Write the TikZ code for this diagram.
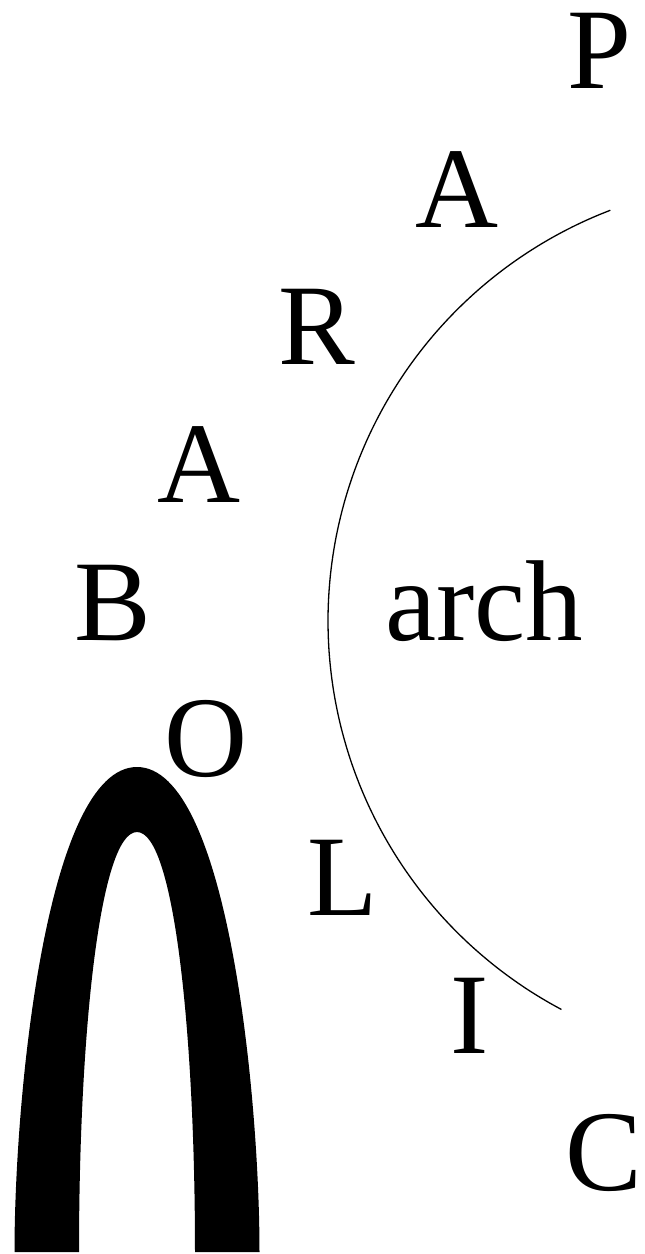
\documentclass[tikz,border=0pt]{standalone}
\usepackage{fontspec}
\setmainfont{Liberation Serif}
\begin{document}
\begin{tikzpicture}[x=1pt,y=-1pt,
  letter/.style={anchor=base, inner sep=0pt, font=\fontsize{115}{120}\selectfont},
  thinarc/.style={line width=1.3pt, black},
  archfill/.style={fill=black}]
\useasboundingbox (0,0) rectangle (645,1254);
% letters
\node[letter] (p)  at (599,88)   {P};
\node[letter] (a1) at (457,227)  {A};
\node[letter] (r)  at (317,364)  {R};
\node[letter] (a2) at (199,502)  {A};
\node[letter] (b)  at (113,640)  {B};
\node[letter] (o)  at (206,776)  {O};
\node[letter] (l)  at (343,915)  {L};
\node[letter] (i)  at (470,1053) {I};
\node[letter] (c)  at (604,1190) {C};
\node[letter] (arch) at (484,640) {arch};
% thin arc
\draw[thinarc] plot[domain=111:242, samples=80, smooth] ({768+440*cos(\x)}, {621-440*sin(\x)});
% thick arch
\path[archfill] (14.5,1252) .. controls (14.5,1093) and (47,767) .. (137,767)
  .. controls (227,767) and (259.5,1093) .. (259.5,1252)
  -- (195,1252) .. controls (195,1033) and (174,832) .. (137,832)
  .. controls (100,832) and (79,1033) .. (79,1252) -- cycle;
\end{tikzpicture}
\end{document}
